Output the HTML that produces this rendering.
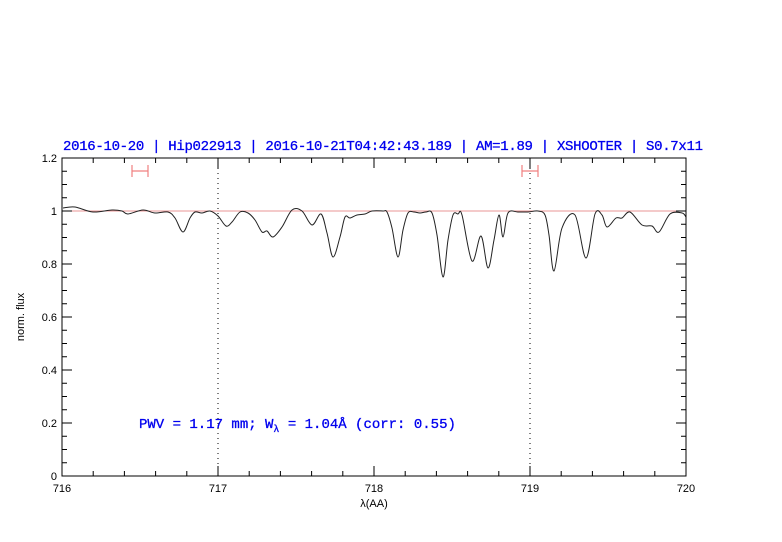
<!DOCTYPE html>
<html><head><meta charset="utf-8"><style>body{margin:0;background:#fff}svg{display:block}</style></head><body>
<svg width="782" height="542" xmlns="http://www.w3.org/2000/svg" font-family="Liberation Sans, sans-serif">
<rect width="782" height="542" fill="#fff"/>
<text x="383" y="150" text-anchor="middle" fill="#0000ee" font-size="14" font-family="Liberation Mono, monospace" textLength="640" stroke="#0000ee" stroke-width="0.3">2016-10-20 | Hip022913 | 2016-10-21T04:42:43.189 | AM=1.89 | XSHOOTER | S0.7x11</text>
<line x1="62" y1="211" x2="686" y2="211" stroke="#e07070" stroke-width="0.8"/>
<line x1="218" y1="158" x2="218" y2="476" stroke="#000" stroke-dasharray="1,4" stroke-width="1"/>
<line x1="530" y1="158" x2="530" y2="476" stroke="#000" stroke-dasharray="1,4" stroke-width="1"/>
<g stroke="#f08080" stroke-width="1.2" fill="none">
<path d="M132 171H148M132 165V177M148 165V177"/>
<path d="M522 171H538M522 165V177M538 165V177"/>
</g>
<path id="spec" fill="none" stroke="#222" stroke-width="1" d=""/>
<rect x="62" y="158" width="624" height="318" fill="none" stroke="#000" stroke-width="1"/>
<g stroke="#000" stroke-width="1">
<path d="M62 476v-10M62 158v10M218 476v-10M218 158v10M374 476v-10M374 158v10M530 476v-10M530 158v10M686 476v-10M686 158v10
M93.2 476v-5M124.4 476v-5M155.6 476v-5M186.8 476v-5M249.2 476v-5M280.4 476v-5M311.6 476v-5M342.8 476v-5M405.2 476v-5M436.4 476v-5M467.6 476v-5M498.8 476v-5M561.2 476v-5M592.4 476v-5M623.6 476v-5M654.8 476v-5
M93.2 158v5M124.4 158v5M155.6 158v5M186.8 158v5M249.2 158v5M280.4 158v5M311.6 158v5M342.8 158v5M405.2 158v5M436.4 158v5M467.6 158v5M498.8 158v5M561.2 158v5M592.4 158v5M623.6 158v5M654.8 158v5"/>
<path d="M62 476h10M62 423h10M62 370h10M62 317h10M62 264h10M62 211h10M62 158h10M686 476h-10M686 423h-10M686 370h-10M686 317h-10M686 264h-10M686 211h-10M686 158h-10
M62 462.75h5M62 449.5h5M62 436.25h5M62 409.75h5M62 396.5h5M62 383.25h5M62 356.75h5M62 343.5h5M62 330.25h5M62 303.75h5M62 290.5h5M62 277.25h5M62 250.75h5M62 237.5h5M62 224.25h5M62 197.75h5M62 184.5h5M62 171.25h5
M686 462.75h-5M686 449.5h-5M686 436.25h-5M686 409.75h-5M686 396.5h-5M686 383.25h-5M686 356.75h-5M686 343.5h-5M686 330.25h-5M686 303.75h-5M686 290.5h-5M686 277.25h-5M686 250.75h-5M686 237.5h-5M686 224.25h-5M686 197.75h-5M686 184.5h-5M686 171.25h-5"/>
</g>
<g font-size="11" fill="#000" text-anchor="end">
<text x="57" y="480">0</text><text x="57" y="427">0.2</text><text x="57" y="374">0.4</text><text x="57" y="321">0.6</text><text x="57" y="268">0.8</text><text x="57" y="215">1</text><text x="57" y="162">1.2</text>
</g>
<g font-size="11" fill="#000" text-anchor="middle">
<text x="62" y="492">716</text><text x="218" y="492">717</text><text x="374" y="492">718</text><text x="530" y="492">719</text><text x="686" y="492">720</text>
<text x="374" y="507">λ(AA)</text>
</g>
<text transform="translate(24,317) rotate(-90)" font-size="11" text-anchor="middle" fill="#000">norm. flux</text>
<text x="139" y="428" fill="#0000ee" font-size="14" font-family="Liberation Mono, monospace" stroke="#0000ee" stroke-width="0.3">PWV = 1.17 mm; W<tspan font-size="10" dy="4">λ</tspan><tspan dy="-4"> = 1.04Å (corr: 0.55)</tspan></text>
</svg>
<script>
var p=[[63,208],[75,207],[93,212],[112,210],[122,211],[128,214],[143,210],[155,213],[168,212],[175,218],[183,232],[190,218],[195,212],[202,213],[210,211],[218,216],[226,226],[232,222],[240,212],[248,213],[255,220],[262,232],[267,231],[273,237],[282,227],[292,210],[302,211],[312,225],[321,214],[327,233],[333,257],[340,237],[345,217],[350,218],[357,215],[365,214],[372,211],[383,211],[387,212],[392,228],[398,257],[403,230],[408,213],[414,212],[420,213],[426,212],[432,213],[437,235],[443,277],[448,240],[453,215],[458,214],[462,215],[472,261],[481,236],[488,268],[494,240],[499,215],[503,237],[508,213],[518,212],[528,212],[538,211],[545,215],[549,235],[554,271],[562,228],[575,215],[586,258],[595,214],[602,215],[607,227],[616,218],[622,218],[630,212],[642,225],[652,226],[659,232],[670,214],[682,213],[686,217]];
var d="M"+p[0];
for(var i=0;i<p.length-1;i++){var a=p[Math.max(i-1,0)],b=p[i],c=p[i+1],e=p[Math.min(i+2,p.length-1)];
d+="C"+(b[0]+(c[0]-a[0])/6)+","+(b[1]+(c[1]-a[1])/6)+" "+(c[0]-(e[0]-b[0])/6)+","+(c[1]-(e[1]-b[1])/6)+" "+c[0]+","+c[1];}
document.getElementById("spec").setAttribute("d",d);
</script>
</body></html>
